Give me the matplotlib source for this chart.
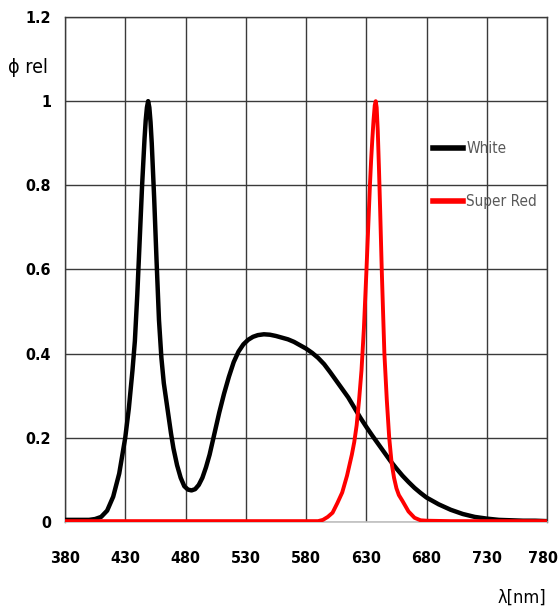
import matplotlib
matplotlib.use("Agg")
from matplotlib import pyplot as plt
from matplotlib import transforms

# spectrum of the white LED
white_nm = [380, 390, 400, 405, 410, 415, 420, 425, 430, 433, 436, 438, 440, 442, 444, 446, 447,
            448, 449, 450, 451, 452, 454, 456, 458, 460, 462, 465, 468, 470, 473, 476, 479, 482,
            485, 488, 491, 494, 497, 500, 504, 508, 512, 516, 520, 524, 528, 532, 536, 540, 545,
            550, 555, 560, 565, 570, 575, 580, 585, 590, 595, 600, 605, 610, 615, 620, 625, 630,
            635, 640, 645, 650, 655, 660, 665, 670, 675, 680, 690, 700, 710, 720, 730, 740, 750,
            760, 770, 780]
white_val = [0.005, 0.005, 0.005, 0.007, 0.012, 0.027, 0.06, 0.115, 0.20, 0.27, 0.36, 0.43, 0.54,
             0.67, 0.80, 0.91, 0.955, 0.985, 1.0, 0.985, 0.95, 0.90, 0.77, 0.62, 0.48, 0.39,
             0.33, 0.27, 0.21, 0.175, 0.135, 0.105, 0.085, 0.077, 0.075, 0.078, 0.088, 0.105,
             0.13, 0.16, 0.21, 0.26, 0.305, 0.345, 0.38, 0.405, 0.422, 0.433, 0.44, 0.444, 0.446,
             0.445, 0.442, 0.438, 0.434, 0.428, 0.42, 0.412, 0.402, 0.39, 0.375, 0.356, 0.336,
             0.316, 0.296, 0.272, 0.248, 0.226, 0.205, 0.185, 0.165, 0.145, 0.127, 0.11, 0.095,
             0.081, 0.069, 0.058, 0.042, 0.029, 0.019, 0.012, 0.008, 0.005, 0.004, 0.003, 0.003,
             0.002]

# spectrum of the super red LED
red_nm = [380, 450, 520, 590, 594, 598, 602, 606, 610, 614, 618, 620, 622, 624, 626, 628, 630,
          631, 632, 633, 634, 635, 636, 637, 637.8, 638.6, 639.5, 640.5, 641.5, 642.8, 644, 645,
          647, 649, 651, 653, 655, 657, 660, 665, 670, 675, 680, 700, 740, 780]
red_val = [0.002, 0.002, 0.002, 0.002, 0.005, 0.012, 0.022, 0.045, 0.07, 0.11, 0.16, 0.19, 0.23,
           0.29, 0.36, 0.46, 0.59, 0.66, 0.73, 0.80, 0.86, 0.91, 0.955, 0.99, 1.0, 0.985, 0.93,
           0.84, 0.74, 0.60, 0.49, 0.40, 0.29, 0.20, 0.14, 0.105, 0.08, 0.064, 0.05, 0.025, 0.01,
           0.004, 0.003, 0.002, 0.002, 0.002]

x_ticks = [380, 430, 480, 530, 580, 630, 680, 730, 780]
y_ticks = [0, 0.2, 0.4, 0.6, 0.8, 1, 1.2]
y_labels = ["0", "0.2", "0.4", "0.6", "0.8", "1", "1.2"]

plt.rcParams["font.family"] = ["DejaVu Sans"]
plt.rcParams["font.stretch"] = "condensed"

fig = plt.figure(figsize=(5.6, 6.11), dpi=100)
ax = fig.add_axes([0.116, 0.1457, 0.861, 0.8265])

ax.plot(white_nm, white_val, color="black", lw=3.2, label="White", zorder=3)
ax.plot(red_nm, red_val, color="#ff0000", lw=2.8, label="Super Red", zorder=4)

ax.set_xlim(380, 780)
ax.set_ylim(0, 1.2)
ax.set_xticks(x_ticks)
ax.set_yticks(y_ticks)
ax.set_yticklabels(y_labels)
ax.grid(True, color="#3a3a3a", lw=1.0, zorder=0)
ax.set_axisbelow(True)
for s in ["left", "top", "right"]:
    ax.spines[s].set_color("#3a3a3a")
    ax.spines[s].set_linewidth(1.0)
ax.spines["bottom"].set_color("#c0c0c0")
ax.spines["bottom"].set_linewidth(1.2)
ax.tick_params(axis="both", length=0, labelsize=11.5)
ax.tick_params(axis="x", pad=21)
ax.tick_params(axis="y", pad=10)
for t in ax.get_xticklabels() + ax.get_yticklabels():
    t.set_fontweight("bold")
# keep the last x label inside the picture
last = ax.get_xticklabels()[-1]
last.set_transform(last.get_transform() + transforms.ScaledTranslation(-3 / 72, 0, fig.dpi_scale_trans))

fig.text(0.014, 0.89, "ϕ rel", fontsize=14, ha="left", va="center")
fig.text(0.889, 0.022, "λ[nm]", fontsize=13, ha="left", va="center")

leg = ax.legend(loc="upper left", bbox_to_anchor=(0.759, 0.781), bbox_transform=fig.transFigure,
                frameon=False, fontsize=11, handlelength=2.0, handletextpad=0.2,
                labelspacing=2.47, borderpad=0, labelcolor="#595959")
for h in leg.get_lines():
    h.set_linewidth(4)

fig.savefig("out.png", dpi=100)
